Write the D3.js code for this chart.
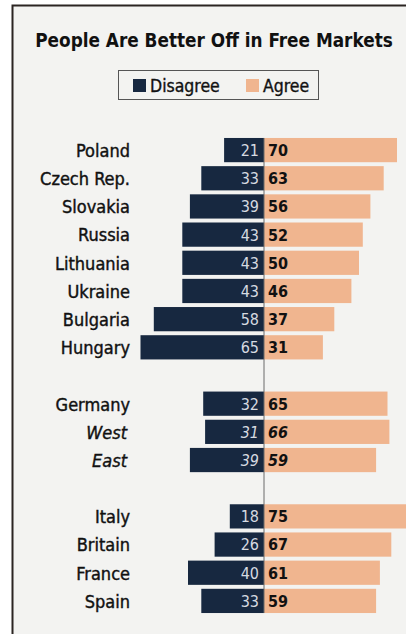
<!DOCTYPE html>
<html>
<head>
<meta charset="utf-8">
<script src="https://cdn.jsdelivr.net/npm/d3@7/dist/d3.min.js"></script>
<style>
  html, body { margin: 0; padding: 0; background: #ffffff; }
  svg { display: block; }
</style>
</head>
<body>
<svg id="chart" width="406" height="634"></svg>
<script>
// Survey groups, in display order (a blank row separates each group)
const groups = [
  ["Poland", "Czech Rep.", "Slovakia", "Russia", "Lithuania", "Ukraine", "Bulgaria", "Hungary"],
  ["Germany", "West", "East"],
  ["Italy", "Britain", "France", "Spain"]
];
const disagree = [21, 33, 39, 43, 43, 43, 58, 65, 32, 31, 39, 18, 26, 40, 33];
const agree    = [70, 63, 56, 52, 50, 46, 37, 31, 65, 66, 59, 75, 67, 61, 59];
const italicRows = ["West", "East"];
const seriesNames = ["Disagree", "Agree"];
const colors = ["#172840", "#f0b58f"];

const svg = d3.select("#chart");
const W = 406, H = 634;
const font = "'DejaVu Sans Condensed', 'DejaVu Sans', sans-serif";

// Panel with a dark rule on the top and left edges
svg.append("rect").attr("x", 12).attr("y", 5).attr("width", W - 12).attr("height", H - 5)
  .attr("fill", "#f3f3f1");
svg.append("path")
  .attr("d", `M12.5,${H} V5.5 H${W}`)
  .attr("fill", "none").attr("stroke", "#2b2522").attr("stroke-width", 2);

// Title
svg.append("text")
  .attr("x", 214).attr("y", 47)
  .attr("text-anchor", "middle")
  .attr("font-family", font)
  .attr("font-weight", "bold").attr("font-size", 18.8)
  .attr("fill", "#111")
  .text("People Are Better Off in Free Markets");

// Legend
const lg = svg.append("g");
lg.append("rect").attr("x", 118.5).attr("y", 70.5).attr("width", 200).attr("height", 29)
  .attr("fill", "none").attr("stroke", "#555").attr("stroke-width", 1);
const legendItems = [
  { name: seriesNames[0], color: colors[0], x: 133 },
  { name: seriesNames[1], color: colors[1], x: 246 }
];
legendItems.forEach(it => {
  lg.append("rect").attr("x", it.x).attr("y", 79).attr("width", 13).attr("height", 13).attr("fill", it.color);
  lg.append("text").attr("x", it.x + 17).attr("y", 92)
    .attr("font-family", font)
    .attr("font-size", 17.5).attr("fill", "#111")
    .attr("stroke", "#111").attr("stroke-width", 0.35)
    .text(it.name);
});

// Build row list with spacer slots between groups
const rows = [];
let k = 0;
groups.forEach((g, gi) => {
  if (gi > 0) rows.push({ key: "__gap" + gi, spacer: true });
  g.forEach(name => {
    rows.push({ key: name, name, disagree: disagree[k], agree: agree[k], italic: italicRows.includes(name) });
    k++;
  });
});

const y = d3.scaleBand()
  .domain(rows.map(r => r.key))
  .range([136, 615])
  .paddingInner(0.14).paddingOuter(0.07);

const x = d3.scaleLinear().domain([-80, 80]).range([112, 416]);
const x0 = x(0);

const data = rows.filter(r => !r.spacer);

// Disagree bars (extend left of the centre)
svg.append("g").selectAll("rect").data(data).join("rect")
  .attr("x", d => x(-d.disagree))
  .attr("y", d => y(d.key))
  .attr("width", d => x0 - x(-d.disagree))
  .attr("height", y.bandwidth())
  .attr("fill", colors[0]);

// Agree bars (extend right of the centre)
svg.append("g").selectAll("rect").data(data).join("rect")
  .attr("x", x0)
  .attr("y", d => y(d.key))
  .attr("width", d => x(d.agree) - x0)
  .attr("height", y.bandwidth())
  .attr("fill", colors[1]);

// Centre rule
svg.append("line")
  .attr("x1", x0).attr("x2", x0)
  .attr("y1", y(data[0].key)).attr("y2", y(data[data.length - 1].key) + y.bandwidth())
  .attr("stroke", "#6b6b6b").attr("stroke-width", 1);

// Category labels
svg.append("g").selectAll("text").data(data).join("text")
  .attr("x", d => d.italic ? 127 : 130)
  .attr("y", d => y(d.key) + y.bandwidth() / 2)
  .attr("dy", "0.38em")
  .attr("text-anchor", "end")
  .attr("font-family", font)
  .attr("font-size", 18)
  .attr("font-style", d => d.italic ? "italic" : "normal")
  .attr("fill", "#111")
  .attr("stroke", "#111").attr("stroke-width", 0.4)
  .text(d => d.name);

// Disagree values
svg.append("g").selectAll("text").data(data).join("text")
  .attr("x", x0 - 5)
  .attr("y", d => y(d.key) + y.bandwidth() / 2)
  .attr("dy", "0.37em")
  .attr("text-anchor", "end")
  .attr("font-family", font)
  .attr("font-size", 16)
  .attr("font-style", d => d.italic ? "italic" : "normal")
  .attr("fill", "#d6dae0")
  .text(d => d.disagree);

// Agree values
svg.append("g").selectAll("text").data(data).join("text")
  .attr("x", x0 + 4)
  .attr("y", d => y(d.key) + y.bandwidth() / 2)
  .attr("dy", "0.37em")
  .attr("font-family", font)
  .attr("font-size", 16)
  .attr("font-weight", "bold")
  .attr("font-style", d => d.italic ? "italic" : "normal")
  .attr("fill", "#111")
  .text(d => d.agree);
</script>
</body>
</html>
